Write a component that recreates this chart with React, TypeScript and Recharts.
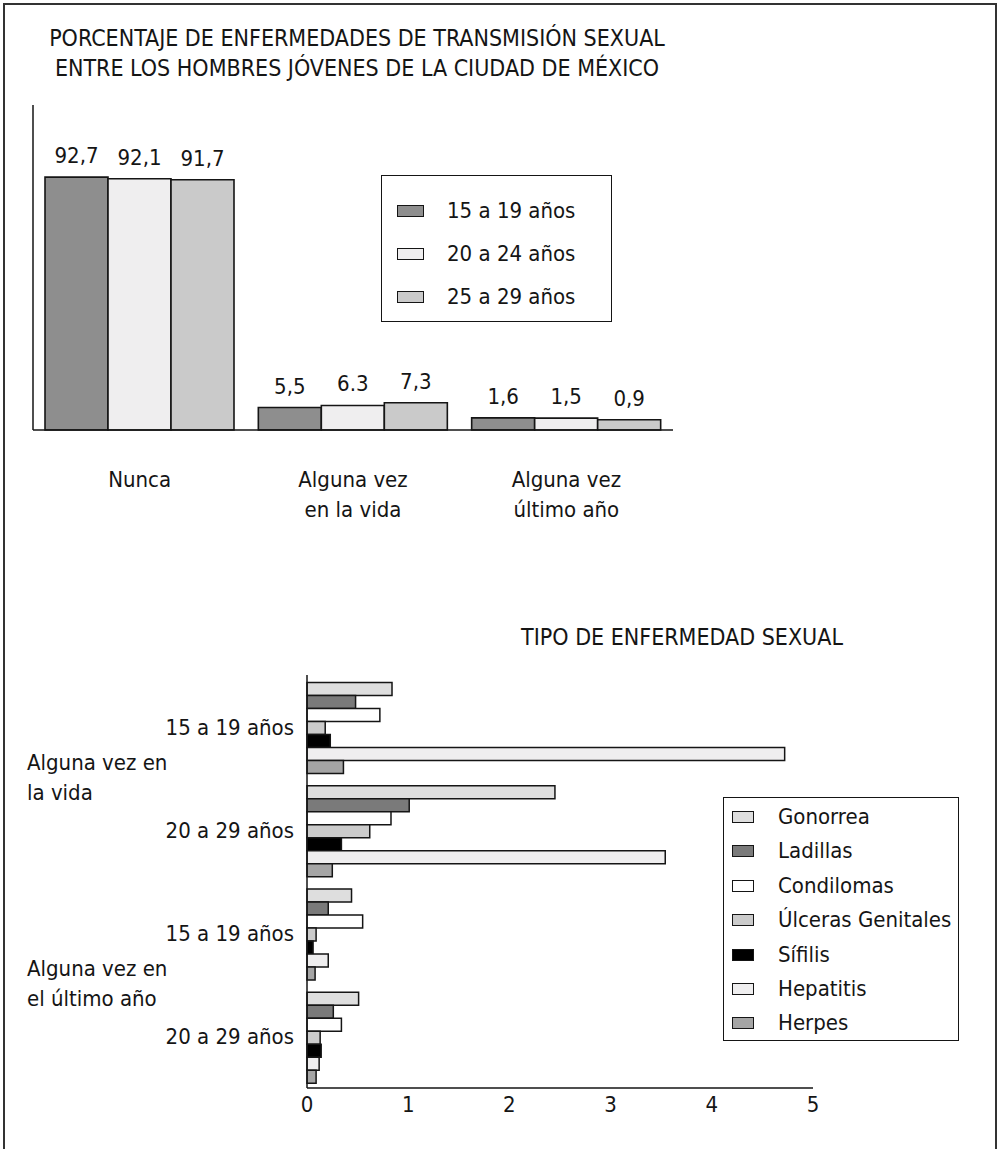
import React from "react";
import { BarChart, Bar, XAxis, YAxis, LabelList } from "recharts";

const FONT = "'DejaVu Sans Condensed', 'Liberation Sans Narrow', sans-serif";
const INK = "#151515";
const TXT = 22;

// --- porcentaje por edad ---
const ageGroups = ["15 a 19 años", "20 a 24 años", "25 a 29 años"];
const occasions = ["Nunca", "Alguna vez\nen la vida", "Alguna vez\núltimo año"];
const age15to19 = [92.7, 5.5, 1.6];
const age20to24 = [92.1, 6.3, 1.5];
const age25to29 = [91.7, 7.3, 0.9];
const label15to19 = ["92,7", "5,5", "1,6"];
const label20to24 = ["92,1", "6.3", "1,5"];
const label25to29 = ["91,7", "7,3", "0,9"];
const ageColors = ["#8e8e8e", "#efeeef", "#cacaca"];
// the value axis of the printed chart starts a little below zero
const AXIS_FLOOR = -3;

// --- tipo de enfermedad ---
const ageRows = ["15 a 19 años", "20 a 29 años", "15 a 19 años", "20 a 29 años"];
const periods = ["Alguna vez en\nla vida", "Alguna vez en\nel último año"];
const diseases = ["Gonorrea", "Ladillas", "Condilomas", "Úlceras Genitales", "Sífilis", "Hepatitis", "Herpes"];
const gonorrea = [0.84, 2.45, 0.44, 0.51];
const ladillas = [0.48, 1.01, 0.21, 0.26];
const condilomas = [0.72, 0.83, 0.55, 0.34];
const ulceras = [0.18, 0.62, 0.09, 0.13];
const sifilis = [0.23, 0.34, 0.06, 0.14];
const hepatitis = [4.72, 3.54, 0.21, 0.12];
const herpes = [0.36, 0.25, 0.08, 0.09];
const diseaseColors = ["#dedede", "#7a7a7a", "#ffffff", "#cbcbcb", "#000000", "#efeeef", "#a5a5a5"];
const xTicks = [0, 1, 2, 3, 4, 5];

const topData = occasions.map((name, i) => ({
  name,
  a: age15to19[i],
  b: age20to24[i],
  c: age25to29[i],
  aLabel: label15to19[i],
  bLabel: label20to24[i],
  cLabel: label25to29[i],
}));

const diseaseSeries = [gonorrea, ladillas, condilomas, ulceras, sifilis, hepatitis, herpes];
const bottomData = ageRows.map((name, i) => {
  const row: Record<string, number | string> = { name };
  diseases.forEach((d, k) => {
    row[d] = diseaseSeries[k][i];
  });
  return row;
});

const OccasionTick = (props: any) => {
  const { x, y, payload } = props;
  const lines = String(payload.value).split("\n");
  return (
    <text x={x} y={y} textAnchor="middle" fontFamily={FONT} fontSize={TXT} fill={INK}>
      {lines.map((l, i) => (
        <tspan key={i} x={x} dy={i === 0 ? 57 : 30}>
          {l}
        </tspan>
      ))}
    </text>
  );
};

const AgeRowTick = (props: any) => {
  const { x, y, payload, index } = props;
  const period = index % 2 === 0 ? periods[index / 2].split("\n") : null;
  return (
    <g>
      <text x={x} y={y} dy="0.36em" textAnchor="end" fontFamily={FONT} fontSize={TXT} fill={INK}>
        {payload.value}
      </text>
      {period && (
        <text x={27} y={y} textAnchor="start" fontFamily={FONT} fontSize={TXT} fill={INK}>
          {period.map((l, i) => (
            <tspan key={i} x={27} dy={i === 0 ? 43 : 30}>
              {l}
            </tspan>
          ))}
        </text>
      )}
    </g>
  );
};

type BoxLegendProps = {
  names: string[];
  colors: string[];
  left: number;
  top: number;
  width: number;
  height: number;
  firstRow: number;
  rowStep: number;
  swatchLeft: number;
  swatchWidth: number;
  textLeft: number;
};

const BoxLegend = (p: BoxLegendProps) => (
  <div
    style={{
      position: "absolute",
      left: p.left,
      top: p.top,
      width: p.width,
      height: p.height,
      boxSizing: "border-box",
      border: `1.5px solid ${INK}`,
      background: "#fff",
    }}
  >
    {p.names.map((n, i) => (
      <div key={n} style={{ position: "absolute", left: 0, top: p.firstRow + i * p.rowStep - 13, height: 26, width: "100%" }}>
        <span
          style={{
            position: "absolute",
            left: p.swatchLeft,
            top: 7,
            width: p.swatchWidth,
            height: 12,
            boxSizing: "border-box",
            border: `1.5px solid ${INK}`,
            background: p.colors[i],
          }}
        />
        <span
          style={{
            position: "absolute",
            left: p.textLeft,
            top: 0,
            lineHeight: "26px",
            fontFamily: FONT,
            fontSize: TXT,
            color: INK,
            whiteSpace: "nowrap",
          }}
        >
          {n}
        </span>
      </div>
    ))}
  </div>
);

const ageKeys = ["a", "b", "c"];

export default function App() {
  return (
    <div style={{ position: "absolute", left: 0, top: 0, width: 1000, height: 1149, background: "#fff", overflow: "hidden" }}>
      <div
        style={{
          position: "absolute",
          left: 3,
          top: 3,
          width: 990,
          height: 1170,
          border: "2px solid #333",
        }}
      />
      <div
        style={{
          position: "absolute",
          left: 0,
          top: 23,
          width: 714,
          textAlign: "center",
          fontFamily: FONT,
          fontSize: 23,
          lineHeight: "30px",
          color: INK,
        }}
      >
        PORCENTAJE DE ENFERMEDADES DE TRANSMISIÓN SEXUAL
        <br />
        ENTRE LOS HOMBRES JÓVENES DE LA CIUDAD DE MÉXICO
      </div>

      <div style={{ position: "absolute", left: 0, top: 0 }}>
        <BarChart
          width={1000}
          height={540}
          data={topData}
          margin={{ top: 105, right: 327, bottom: 30, left: 23 }}
          barCategoryGap={12}
          barGap={0}
        >
          <XAxis
            dataKey="name"
            axisLine={{ stroke: INK, strokeWidth: 1.5 }}
            tickLine={false}
            tickSize={0}
            tickMargin={0}
            height={80}
            tick={<OccasionTick />}
            interval={0}
          />
          <YAxis
            type="number"
            domain={[AXIS_FLOOR, 120]}
            width={10}
            tick={false}
            tickLine={false}
            axisLine={{ stroke: INK, strokeWidth: 1.5 }}
          />
          {ageKeys.map((k, i) => (
            <Bar
              key={k}
              name={ageGroups[i]}
              dataKey={(d: any) => [AXIS_FLOOR, d[k]]}
              fill={ageColors[i]}
              stroke={INK}
              strokeWidth={1.6}
              isAnimationActive={false}
            >
              <LabelList dataKey={`${k}Label`} position="top" offset={14} fontFamily={FONT} fontSize={TXT} fill={INK} />
            </Bar>
          ))}
        </BarChart>
      </div>

      <BoxLegend
        names={ageGroups}
        colors={ageColors}
        left={381}
        top={175}
        width={231}
        height={147}
        firstRow={35}
        rowStep={43}
        swatchLeft={15}
        swatchWidth={27}
        textLeft={65}
      />

      <div
        style={{
          position: "absolute",
          left: 482,
          top: 622,
          width: 400,
          textAlign: "center",
          fontFamily: FONT,
          fontSize: 23,
          lineHeight: "30px",
          color: INK,
        }}
      >
        TIPO DE ENFERMEDAD SEXUAL
      </div>

      <div style={{ position: "absolute", left: 0, top: 640 }}>
        <BarChart
          width={1000}
          height={509}
          data={bottomData}
          layout="vertical"
          margin={{ top: 35, right: 187, bottom: 21, left: 7 }}
          barCategoryGap={7.6}
          barGap={0}
        >
          <XAxis
            type="number"
            domain={[0, 5]}
            ticks={xTicks}
            axisLine={{ stroke: INK, strokeWidth: 1.5 }}
            tickLine={false}
            tickSize={0}
            tickMargin={8}
            height={40}
            tick={{ fontFamily: FONT, fontSize: TXT, fill: INK }}
          />
          <YAxis
            type="category"
            dataKey="name"
            width={300}
            axisLine={{ stroke: INK, strokeWidth: 1.5 }}
            tickLine={false}
            tickSize={0}
            tickMargin={13}
            interval={0}
            tick={<AgeRowTick />}
          />
          {diseases.map((d, i) => (
            <Bar
              key={d}
              dataKey={d}
              fill={diseaseColors[i]}
              stroke={INK}
              strokeWidth={1.5}
              isAnimationActive={false}
            />
          ))}
        </BarChart>
      </div>

      <BoxLegend
        names={diseases}
        colors={diseaseColors}
        left={723}
        top={797}
        width={236}
        height={244}
        firstRow={19}
        rowStep={34.4}
        swatchLeft={8}
        swatchWidth={22}
        textLeft={54}
      />
    </div>
  );
}
